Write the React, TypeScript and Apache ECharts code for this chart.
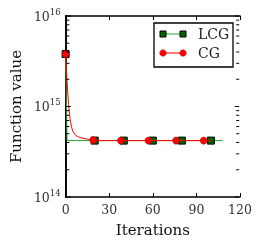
import React, { useEffect, useRef } from "react";
import * as echarts from "echarts";

const xTicks = [0, 30, 60, 90, 120];
const yMin = 1e14;
const yMax = 1e16;

const lcgIter = [0, 1, 20, 40, 60, 80, 100, 108];
const lcgValue = [3.8e15, 4.2e14, 4.2e14, 4.2e14, 4.2e14, 4.2e14, 4.2e14, 4.2e14];
const lcgMarkers = [0, 20, 40, 60, 80, 100];

const cgIter = [0, 1, 2, 3, 4, 5, 7, 9, 12, 16, 19, 25, 38, 57, 76, 95, 100];
const cgValue = [3.8e15, 1.9e15, 1.05e15, 7.4e14, 6.0e14, 5.3e14, 4.8e14, 4.6e14, 4.45e14, 4.33e14, 4.25e14, 4.2e14, 4.2e14, 4.2e14, 4.2e14, 4.2e14, 4.2e14];
const cgMarkers = [0, 19, 38, 57, 76, 95];

const yTickValues: number[] = [];
for (let e = 14; e <= 16; e++) {
  for (let m = 1; m <= 9; m++) {
    const v = m * Math.pow(10, e);
    if (v <= yMax) yTickValues.push(v);
  }
}

const FONT = "DejaVu Serif";

function buildData(iters: number[], vals: number[], marks: number[]) {
  return iters.map((it, i) => {
    const item: any = { value: [it, vals[i]] };
    if (marks.indexOf(it) < 0) item.symbol = "none";
    return item;
  });
}

export default function App() {
  const ref = useRef<HTMLDivElement>(null);
  useEffect(() => {
    const chart = echarts.init(ref.current!, null, { renderer: "svg" });
    const gl = 65, gt = 16, gw = 175, gh = 181;
    const axisCommon = {
      axisLine: { show: true, lineStyle: { color: "#000", width: 1.6 } },
      splitLine: { show: false },
    };
    chart.setOption({
      animation: false,
      grid: { left: gl, top: gt, width: gw, height: gh },
      xAxis: [
        {
          type: "value",
          min: xTicks[0],
          max: xTicks[xTicks.length - 1],
          interval: xTicks[1] - xTicks[0],
          name: "Iterations",
          nameLocation: "middle",
          nameGap: 25,
          nameTextStyle: { fontFamily: FONT, fontSize: 15, color: "#111" },
          axisTick: { inside: true, length: 4, lineStyle: { color: "#000" } },
          axisLabel: { fontFamily: FONT, fontSize: 12.5, color: "#333", margin: 6 },
          ...axisCommon,
        },
        {
          type: "value",
          position: "top",
          min: xTicks[0],
          max: xTicks[xTicks.length - 1],
          interval: xTicks[1] - xTicks[0],
          axisTick: { inside: true, length: 4, lineStyle: { color: "#000" } },
          axisLabel: { show: false },
          ...axisCommon,
        },
      ],
      yAxis: [
        {
          type: "log",
          logBase: 10,
          min: yMin,
          max: yMax,
          name: "Function value",
          nameLocation: "middle",
          nameGap: 42,
          nameTextStyle: { fontFamily: FONT, fontSize: 15, color: "#111" },
          axisTick: { show: false },
          axisLabel: {
            margin: 5,
            formatter: (v: number) => `{b|10}{s|${Math.round(Math.log10(v))}}`,
            rich: {
              b: { fontFamily: FONT, fontSize: 12.5, color: "#333" },
              s: { fontFamily: FONT, fontSize: 8.5, color: "#333", padding: [0, 0, 9, 0] },
            },
          },
          ...axisCommon,
        },
        {
          type: "log",
          logBase: 10,
          position: "right",
          min: yMin,
          max: yMax,
          axisTick: { show: false },
          axisLabel: { show: false },
          ...axisCommon,
        },
      ],
      series: [
        {
          name: "LCG",
          type: "line",
          data: buildData(lcgIter, lcgValue, lcgMarkers),
          showAllSymbol: true,
          symbol: "rect",
          symbolSize: 7,
          lineStyle: { color: "#2ca02c", width: 1 },
          itemStyle: { color: "#006400", borderColor: "#000", borderWidth: 1 },
          z: 3,
        },
        {
          name: "CG",
          type: "line",
          data: buildData(cgIter, cgValue, cgMarkers),
          showAllSymbol: true,
          symbol: "circle",
          symbolSize: 7,
          lineStyle: { color: "#ff0000", width: 1 },
          itemStyle: { color: "#ff0000", borderColor: "#b00000", borderWidth: 0.5 },
          z: 4,
        },
        {
          type: "custom",
          data: yTickValues.map((v) => [xTicks[2], v]),
          silent: true,
          clip: false,
          z: 20,
          renderItem: (params: any, api: any) => {
            const v = api.value(1);
            const major = Math.abs(Math.log10(v) - Math.round(Math.log10(v))) < 1e-6;
            const len = major ? 4.5 : 3;
            const pl = api.coord([xTicks[0], v]);
            const pr = api.coord([xTicks[xTicks.length - 1], v]);
            return {
              type: "group",
              children: [
                { type: "polyline", shape: { points: [[pl[0] + 0.8, pl[1]], [pl[0] + 0.8 + len, pl[1]]] }, style: { stroke: "#000", lineWidth: 1, fill: null } },
                { type: "polyline", shape: { points: [[pr[0] - 0.8 - len, pr[1]], [pr[0] - 0.8, pr[1]]] }, style: { stroke: "#000", lineWidth: 1, fill: null } },
              ],
            };
          },
        },
      ],
      graphic: [
        { type: "rect", shape: { x: 154, y: 23, width: 79, height: 44 }, style: { fill: "#fff", stroke: "#000", lineWidth: 1.3 }, z: 10 },
        { type: "line", shape: { x1: 163, y1: 34, x2: 183, y2: 34 }, style: { stroke: "#2ca02c", lineWidth: 1 }, z: 11 },
        { type: "rect", shape: { x: 160, y: 31, width: 6, height: 6 }, style: { fill: "#006400", stroke: "#000", lineWidth: 1 }, z: 12 },
        { type: "rect", shape: { x: 180, y: 31, width: 6, height: 6 }, style: { fill: "#006400", stroke: "#000", lineWidth: 1 }, z: 12 },
        { type: "line", shape: { x1: 163, y1: 53, x2: 183, y2: 53 }, style: { stroke: "#ff0000", lineWidth: 1 }, z: 11 },
        { type: "circle", shape: { cx: 163, cy: 53, r: 3.3 }, style: { fill: "#ff0000", stroke: "#b00000", lineWidth: 0.5 }, z: 12 },
        { type: "circle", shape: { cx: 183, cy: 53, r: 3.3 }, style: { fill: "#ff0000", stroke: "#b00000", lineWidth: 0.5 }, z: 12 },
        { type: "text", x: 198, y: 34, style: { text: "LCG", fontFamily: FONT, fontSize: 14, fill: "#222", verticalAlign: "middle" }, z: 12 },
        { type: "text", x: 198, y: 53, style: { text: "CG", fontFamily: FONT, fontSize: 14, fill: "#222", verticalAlign: "middle" }, z: 12 },
      ],
    });
    return () => chart.dispose();
  }, []);
  return <div ref={ref} style={{ position: "fixed", left: 0, top: 0, width: 262, height: 249 }} />;
}
